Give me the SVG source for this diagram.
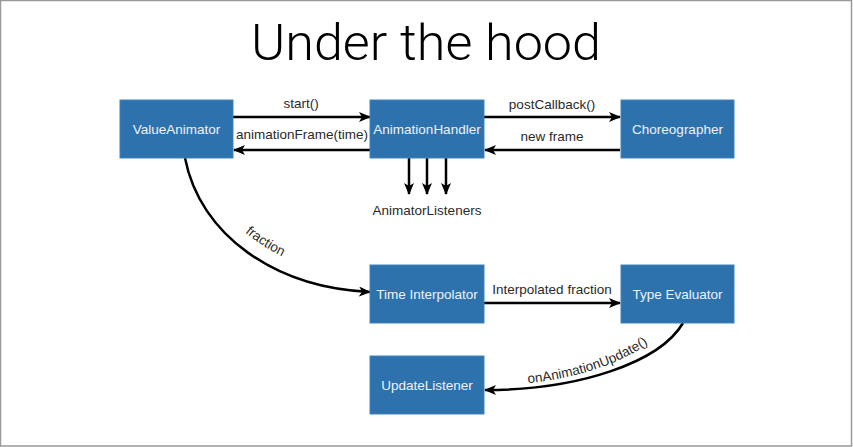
<svg xmlns="http://www.w3.org/2000/svg" width="853" height="447" viewBox="0 0 853 447">
<defs>
<style>
.box{fill:#2d72ad;stroke:#3f83bd;stroke-width:1}
.bt{font-family:"Liberation Sans",Arial,sans-serif;font-size:13.5px;fill:#eef3f8;text-anchor:middle}
.lbl{font-family:"Liberation Sans",Arial,sans-serif;font-size:13.5px;fill:#2a2a2a;text-anchor:middle}
.ln{fill:none;stroke:#000;stroke-width:2.5}
.arr{marker-end:url(#ah)}
</style>
<marker id="ah" viewBox="0 0 12 10" refX="11" refY="5" markerWidth="12" markerHeight="10" markerUnits="userSpaceOnUse" orient="auto">
<path d="M0,0 L12,5 L0,10 L3,5 z" fill="#000"/>
</marker>
<path id="fp" d="M196,156 C211,226 288,274 371,281"/>
<path id="up" d="M496,385 C556,385 636,366 672,322"/>
</defs>
<rect x="0.5" y="0.5" width="851" height="445.5" fill="#fff" stroke="#999" stroke-width="1.5"/>
<text x="426" y="60" font-family="Roboto,'Liberation Sans',sans-serif" font-weight="300" font-size="50" fill="#000" text-anchor="middle" textLength="350" lengthAdjust="spacingAndGlyphs">Under the hood</text>

<g id="connectors">
<path class="ln arr" d="M233,117 L370,117"/>
<path class="ln arr" d="M370,150 L234,150"/>
<path class="ln arr" d="M484,117 L620,117"/>
<path class="ln arr" d="M620,150 L485,150"/>
<path class="ln arr" d="M409,158 L409,194"/>
<path class="ln arr" d="M427,158 L427,194"/>
<path class="ln arr" d="M446,158 L446,194"/>
<path class="ln arr" d="M185,158 C200,235 275,288 370,292"/>
<path class="ln arr" d="M484,303 L620,303"/>
<path class="ln arr" d="M683,323 C660,362 580,390 485,390"/>
<text class="lbl" x="301" y="108">start()</text>
<text class="lbl" x="302" y="139">animationFrame(time)</text>
<text class="lbl" x="552" y="109">postCallback()</text>
<text class="lbl" x="552" y="141">new frame</text>
<text class="lbl" x="427" y="215">AnimatorListeners</text>
<text class="lbl" x="552" y="294">Interpolated fraction</text>
<text class="lbl"><textPath href="#fp" startOffset="50%">fraction</textPath></text>
<text class="lbl"><textPath href="#up" startOffset="50%">onAnimationUpdate()</textPath></text>
</g>

<g id="ValueAnimator"><rect class="box" x="120" y="100" width="113" height="58"/><text class="bt" x="176.5" y="133.5">ValueAnimator</text></g>
<g id="AnimationHandler"><rect class="box" x="370" y="100" width="114" height="58"/><text class="bt" x="427" y="133.5">AnimationHandler</text></g>
<g id="Choreographer"><rect class="box" x="621" y="100" width="113" height="58"/><text class="bt" x="677.5" y="133.5">Choreographer</text></g>
<g id="TimeInterpolator"><rect class="box" x="370" y="265" width="114" height="58"/><text class="bt" x="427" y="299">Time Interpolator</text></g>
<g id="TypeEvaluator"><rect class="box" x="621" y="265" width="113" height="58"/><text class="bt" x="677.5" y="299">Type Evaluator</text></g>
<g id="UpdateListener"><rect class="box" x="370" y="356" width="114" height="58"/><text class="bt" x="427" y="390">UpdateListener</text></g>
</svg>
